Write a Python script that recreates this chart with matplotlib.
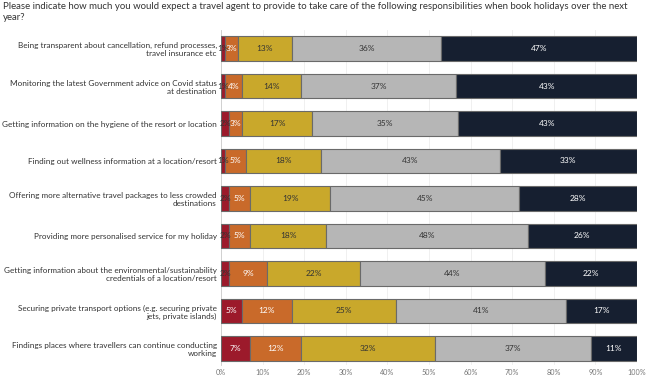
import matplotlib.pyplot as plt
import numpy as np

plt.rcParams['font.family'] = ['Lato', 'DejaVu Sans']

categories = [
    "Being transparent about cancellation, refund processes,\ntravel insurance etc",
    "Monitoring the latest Government advice on Covid status\nat destination",
    "Getting information on the hygiene of the resort or location",
    "Finding out wellness information at a location/resort",
    "Offering more alternative travel packages to less crowded\ndestinations",
    "Providing more personalised service for my holiday",
    "Getting information about the environmental/sustainability\ncredentials of a location/resort",
    "Securing private transport options (e.g. securing private\njets, private islands)",
    "Findings places where travellers can continue conducting\nworking",
]

s1 = [1, 1, 2, 1, 2, 2, 2, 5, 7]
s2 = [3, 4, 3, 5, 5, 5, 9, 12, 12]
s3 = [13, 14, 17, 18, 19, 18, 22, 25, 32]
s4 = [36, 37, 35, 43, 45, 48, 44, 41, 37]
s5 = [47, 43, 43, 33, 28, 26, 22, 17, 11]

series = [s1, s2, s3, s4, s5]
colors = ["#9c1a2b", "#c96a2a", "#c9a82b", "#b6b6b6", "#161f30"]
text_colors = ["#ffffff", "#ffffff", "#333333", "#333333", "#ffffff"]

data = np.array(series, dtype=float)
data = data / data.sum(axis=0) * 100

fig = plt.figure(figsize=(6.61, 3.77), dpi=100)
ax = fig.add_axes([0.3343, 0.031, 0.6294, 0.890])

y = np.arange(len(categories))
left = np.zeros(len(categories))
for i, vals in enumerate(data):
    ax.barh(y, vals, left=left, height=0.66, color=colors[i],
            edgecolor="#6a6a6a", linewidth=0.8, zorder=3)
    for j, v in enumerate(vals):
        tc = text_colors[i]
        if i == 0 and series[i][j] < 5:
            tc = "#333333"
        ax.text(left[j] + v / 2, y[j], f"{series[i][j]}%", ha="center",
                va="center", fontsize=6, color=tc, zorder=4)
    left += vals

ax.set_xlim(0, 100)
ax.set_ylim(8.45, -0.5)
ax.set_yticks(y)
ax.set_yticklabels(categories, fontsize=5.9, color="#333333")
ax.set_xticks(np.arange(0, 101, 10))
ax.set_xticklabels([f"{t}%" for t in range(0, 101, 10)], fontsize=5.2, color="#777777")
ax.tick_params(length=0, pad=3)
ax.xaxis.grid(True, color="#eeeeee", linewidth=0.6, zorder=0)
for s in ["top", "right", "bottom"]:
    ax.spines[s].set_visible(False)
ax.spines["left"].set_color("#cccccc")
ax.spines["left"].set_linewidth(0.6)

fig.text(0.004, 0.995, "Please indicate how much you would expect a travel agent to provide to take care of the following responsibilities when book holidays over the next\nyear?",
         ha="left", va="top", fontsize=6.95, color="#333333", linespacing=1.3)

fig.savefig("out.png", dpi=100)
